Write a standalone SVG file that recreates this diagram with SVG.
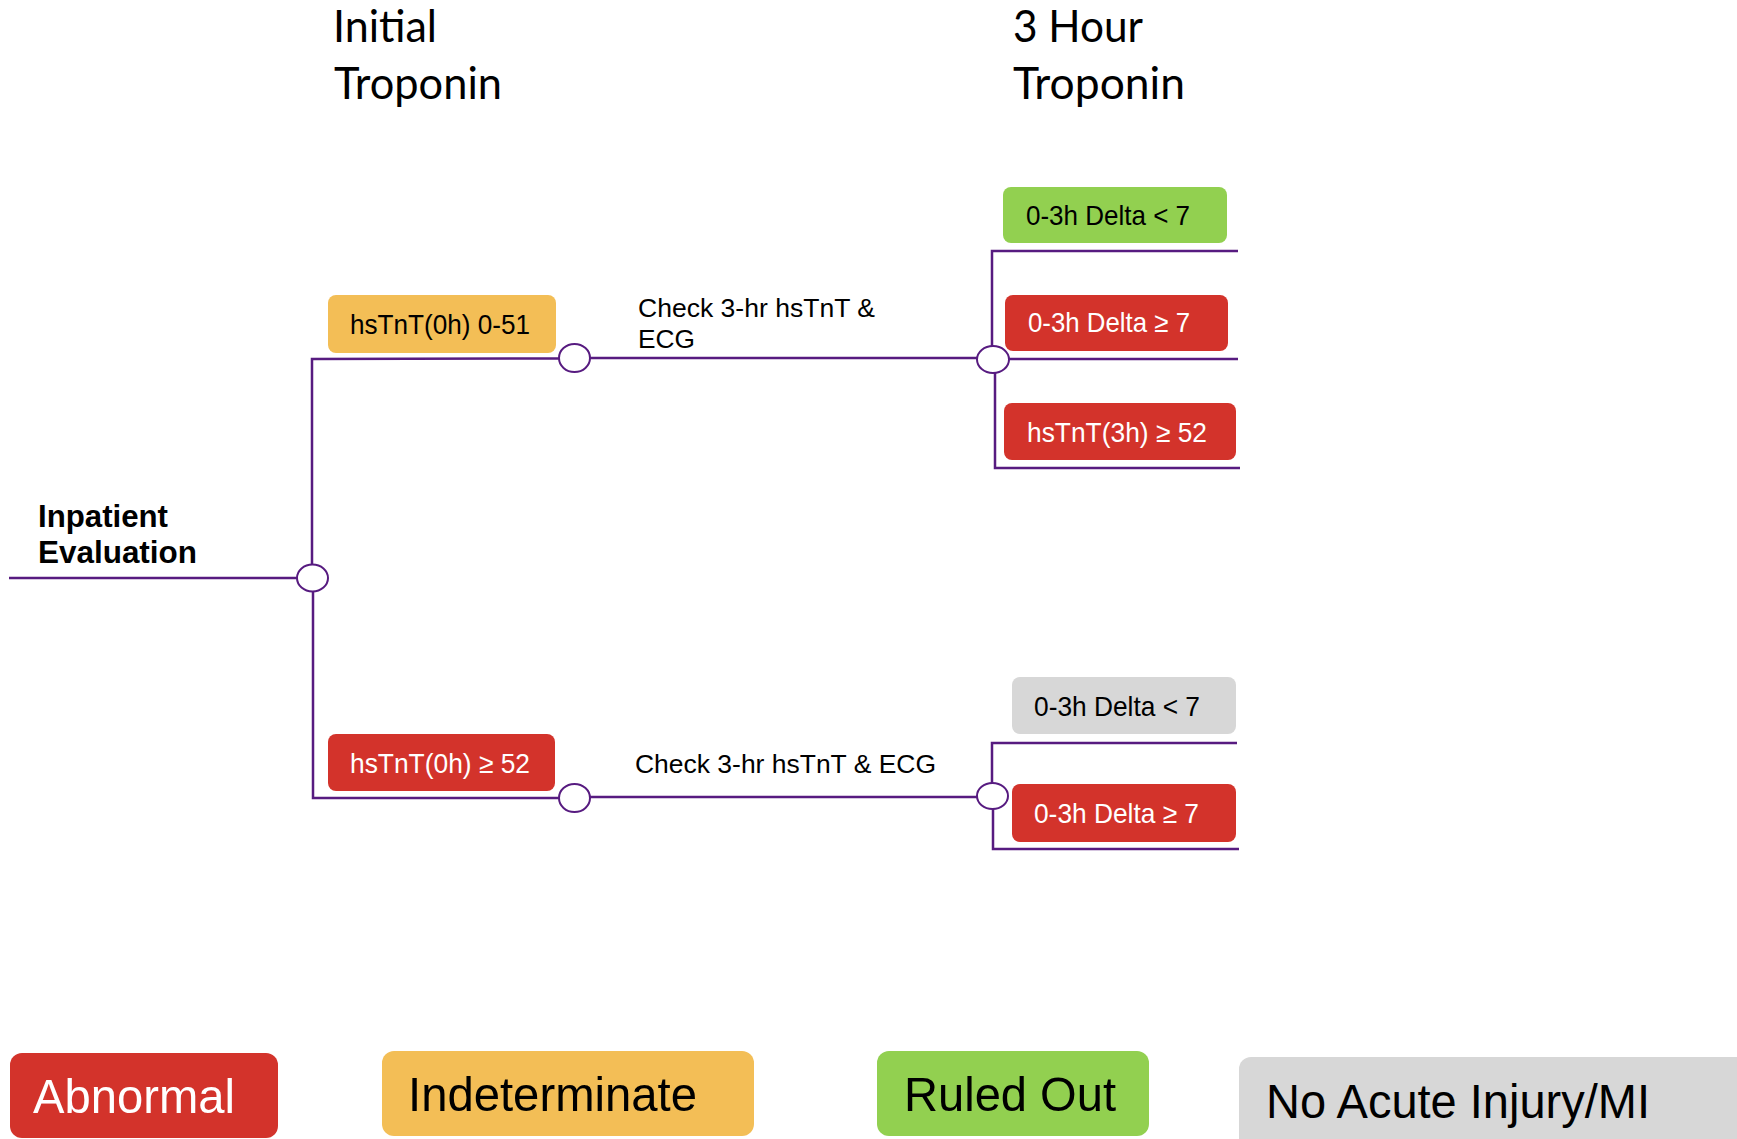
<svg xmlns="http://www.w3.org/2000/svg" width="1737" height="1139" viewBox="0 0 1737 1139">
<style>
  .hdr{font-family:Lato,"Open Sans",sans-serif;font-size:44px;fill:#000}
  .lbl{font-family:"Liberation Sans",Arial,sans-serif;font-size:28px}
  .dk{fill:#000}
  .wt{fill:#fff}
  .leg{font-family:"Liberation Sans",Arial,sans-serif;font-size:49px}
  .chk{font-family:"Liberation Sans",Arial,sans-serif;font-size:25px;fill:#000}
  .bold{font-family:"Liberation Sans",Arial,sans-serif;font-size:31px;font-weight:bold;fill:#000}
  .red{fill:#D3332B}
  .org{fill:#F3BE56}
  .grn{fill:#92D050}
  .gry{fill:#D7D7D7}
  .ln{stroke:#571B80;stroke-width:2.5;fill:none}
  .jn{stroke:#571B80;stroke-width:2;fill:#fff}
</style>
<rect width="1737" height="1139" fill="#fff"/>
<g id="headers">
  <text class="hdr" x="333" y="42" textLength="104" lengthAdjust="spacingAndGlyphs">Initial</text>
  <text class="hdr" x="334" y="99" textLength="168" lengthAdjust="spacingAndGlyphs">Troponin</text>
  <text class="hdr" x="1013" y="42" textLength="130" lengthAdjust="spacingAndGlyphs">3 Hour</text>
  <text class="hdr" x="1013" y="99" textLength="172" lengthAdjust="spacingAndGlyphs">Troponin</text>
</g>
<g id="connectors">
  <line class="ln" x1="9" y1="578" x2="297" y2="578"/>
  <polyline class="ln" points="559,358.5 312,359 312,565"/>
  <polyline class="ln" points="313,592 313,798 559,798"/>
  <line class="ln" x1="590" y1="358" x2="977" y2="358"/>
  <line class="ln" x1="590" y1="797" x2="977" y2="797"/>
  <polyline class="ln" points="1238,251 992,251 992,346"/>
  <line class="ln" x1="1009" y1="359" x2="1238" y2="359"/>
  <polyline class="ln" points="995,373 995,468 1240,468"/>
  <polyline class="ln" points="1237,743 992,743 992,783"/>
  <polyline class="ln" points="993,809 993,849 1239,849"/>
</g>
<g id="junctions">
  <ellipse class="jn" cx="312.5" cy="578" rx="15.5" ry="13.5"/>
  <ellipse class="jn" cx="574.5" cy="358" rx="15.5" ry="14"/>
  <ellipse class="jn" cx="574.5" cy="798" rx="15.5" ry="14"/>
  <ellipse class="jn" cx="993" cy="359.5" rx="16" ry="13.5"/>
  <ellipse class="jn" cx="992.5" cy="796" rx="15.5" ry="13"/>
</g>
<g id="inpatient">
  <text class="bold" x="38" y="527" textLength="130" lengthAdjust="spacingAndGlyphs">Inpatient</text>
  <text class="bold" x="38" y="563" textLength="159" lengthAdjust="spacingAndGlyphs">Evaluation</text>
</g>
<g id="check-top">
  <text class="chk" x="638" y="317" textLength="237" lengthAdjust="spacingAndGlyphs">Check 3-hr hsTnT &amp;</text>
  <text class="chk" x="638" y="348" textLength="57" lengthAdjust="spacingAndGlyphs">ECG</text>
</g>
<g id="check-bottom">
  <text class="chk" x="635" y="773" textLength="301" lengthAdjust="spacingAndGlyphs">Check 3-hr hsTnT &amp; ECG</text>
</g>
<g id="n-0h-indet">
  <rect class="org" x="328" y="295" width="228" height="58" rx="8"/>
  <text class="lbl dk" x="350" y="334" textLength="180" lengthAdjust="spacingAndGlyphs">hsTnT(0h) 0-51</text>
</g>
<g id="n-0h-abn">
  <rect class="red" x="328" y="734" width="227" height="57" rx="8"/>
  <text class="lbl wt" x="350" y="773" textLength="180" lengthAdjust="spacingAndGlyphs">hsTnT(0h) ≥ 52</text>
</g>
<g id="n-top-lt7">
  <rect class="grn" x="1003" y="187" width="224" height="56" rx="8"/>
  <text class="lbl dk" x="1026" y="225" textLength="164" lengthAdjust="spacingAndGlyphs">0-3h Delta &lt; 7</text>
</g>
<g id="n-top-ge7">
  <rect class="red" x="1005" y="295" width="223" height="56" rx="8"/>
  <text class="lbl wt" x="1028" y="332" textLength="162" lengthAdjust="spacingAndGlyphs">0-3h Delta ≥ 7</text>
</g>
<g id="n-top-3h52">
  <rect class="red" x="1004" y="403" width="232" height="57" rx="8"/>
  <text class="lbl wt" x="1027" y="442" textLength="180" lengthAdjust="spacingAndGlyphs">hsTnT(3h) ≥ 52</text>
</g>
<g id="n-bot-lt7">
  <rect class="gry" x="1012" y="677" width="224" height="57" rx="8"/>
  <text class="lbl dk" x="1034" y="716" textLength="166" lengthAdjust="spacingAndGlyphs">0-3h Delta &lt; 7</text>
</g>
<g id="n-bot-ge7">
  <rect class="red" x="1012" y="784" width="224" height="58" rx="8"/>
  <text class="lbl wt" x="1034" y="823" textLength="165" lengthAdjust="spacingAndGlyphs">0-3h Delta ≥ 7</text>
</g>
<g id="legend">
  <g id="leg-abnormal">
    <rect class="red" x="10" y="1053" width="268" height="85" rx="12"/>
    <text class="leg wt" x="33" y="1113" textLength="202" lengthAdjust="spacingAndGlyphs">Abnormal</text>
  </g>
  <g id="leg-indeterminate">
    <rect class="org" x="382" y="1051" width="372" height="85" rx="12"/>
    <text class="leg dk" x="408" y="1111" textLength="289" lengthAdjust="spacingAndGlyphs">Indeterminate</text>
  </g>
  <g id="leg-ruledout">
    <rect class="grn" x="877" y="1051" width="272" height="85" rx="12"/>
    <text class="leg dk" x="904" y="1111" textLength="212" lengthAdjust="spacingAndGlyphs">Ruled Out</text>
  </g>
  <g id="leg-noacute">
    <rect class="gry" x="1239" y="1057" width="520" height="100" rx="12"/>
    <text class="leg dk" x="1266" y="1118" textLength="384" lengthAdjust="spacingAndGlyphs">No Acute Injury/MI</text>
  </g>
</g>
</svg>
